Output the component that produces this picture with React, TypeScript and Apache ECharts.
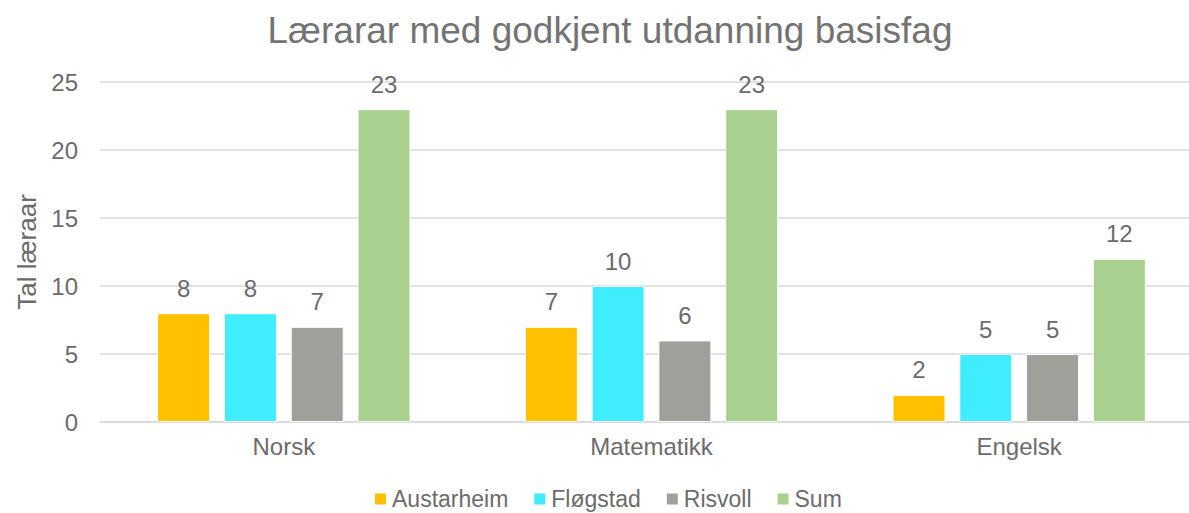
import React, { useEffect, useRef } from "react";
import * as echarts from "echarts";

const categories = ["Norsk", "Matematikk", "Engelsk"];
const seriesNames = ["Austarheim", "Fløgstad", "Risvoll", "Sum"];
const austarheim = [8, 7, 2];
const flogstad = [8, 10, 5];
const risvoll = [7, 6, 5];
const sum = [23, 23, 12];
const colors = ["#FFC000", "#3FEDFF", "#A0A09B", "#A9D08E"];
const yTicks = { min: 0, max: 25, interval: 5 };

const FONT = "'Liberation Sans', Arial, sans-serif";
const TXT = "#6B6B6B";
const TITLE = "#737373";

export default function App() {
  const ref = useRef<HTMLDivElement>(null);
  useEffect(() => {
    const chart = echarts.init(ref.current!, null, { renderer: "svg" });
    const data = [austarheim, flogstad, risvoll, sum];
    chart.setOption({
      animation: false,
      textStyle: { fontFamily: FONT },
      title: {
        text: "Lærarar med godkjent utdanning basisfag",
        left: 605,
        textAlign: "center",
        top: 7,
        textStyle: { fontFamily: FONT, fontSize: 37, fontWeight: "normal", color: TITLE },
      },
      legend: {
        data: seriesNames,
        top: 486,
        left: 373,
        padding: 0,
        itemWidth: 13,
        itemHeight: 13,
        itemGap: 24,
        icon: "rect",
        textStyle: { fontFamily: FONT, fontSize: 23, lineHeight: 26, color: TXT, padding: [0, 0, 0, 0] },
      },
      grid: { left: 100, top: 82, bottom: 91, right: 7 },
      xAxis: {
        type: "category",
        data: categories,
        axisTick: { show: false },
        axisLine: { lineStyle: { color: "#D9D9D9", width: 1.5 } },
        axisLabel: { fontFamily: FONT, fontSize: 24, color: TXT, margin: 12 },
      },
      yAxis: {
        type: "value",
        min: yTicks.min,
        max: yTicks.max,
        interval: yTicks.interval,
        name: "Tal læraar",
        nameLocation: "middle",
        nameGap: 60,
        nameTextStyle: { fontFamily: FONT, fontSize: 26, color: TXT },
        axisLine: { show: false },
        axisTick: { show: false },
        axisLabel: { fontFamily: FONT, fontSize: 24, color: TXT, margin: 22 },
        splitLine: { lineStyle: { color: "#D9D9D9", width: 1.5 } },
      },
      series: seriesNames.map((name, i) => ({
        name,
        type: "bar",
        data: data[i],
        barWidth: 53,
        barGap: "26%",
        itemStyle: { color: colors[i], borderColor: "#FFFFFF", borderWidth: 1 },
        label: {
          show: true,
          position: "top",
          distance: 13,
          fontFamily: FONT,
          fontSize: 24,
          color: TXT,
        },
      })),
    });
    return () => chart.dispose();
  }, []);
  return (
    <div style={{ position: "fixed", left: 0, top: 0, width: 1189, height: 513, overflow: "hidden", background: "#fff" }}>
      <div ref={ref} style={{ width: 1210, height: 513 }} />
    </div>
  );
}
